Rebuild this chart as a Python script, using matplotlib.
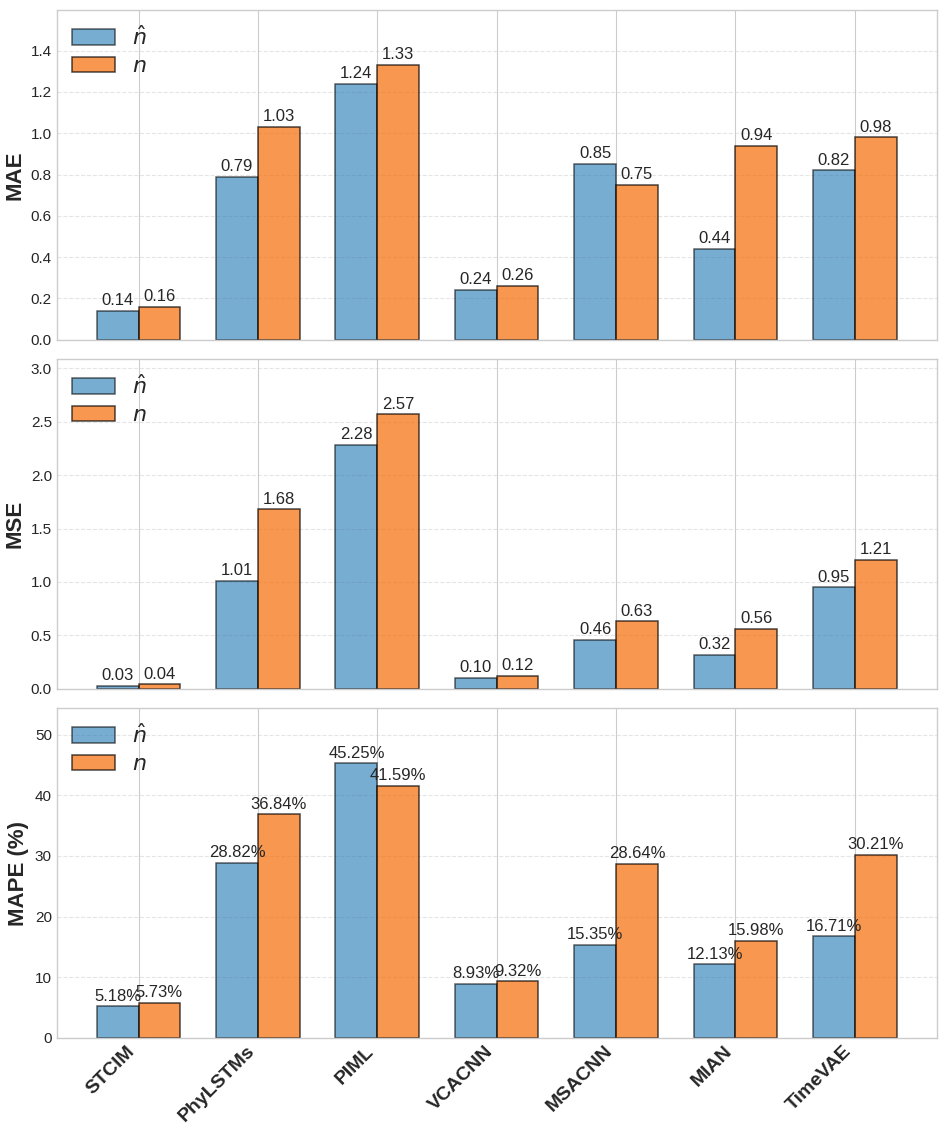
import numpy as np
import matplotlib
matplotlib.use('Agg')
import matplotlib.pyplot as plt

plt.style.use('seaborn-v0_8-whitegrid')
plt.rcParams['font.family'] = ['Liberation Sans', 'DejaVu Sans']
plt.rcParams['mathtext.fontset'] = 'dejavusans'

models = ['STCIM', 'PhyLSTMs', 'PIML', 'VCACNN', 'MSACNN', 'MIAN', 'TimeVAE']

mae_hat = [0.14, 0.79, 1.24, 0.24, 0.85, 0.44, 0.82]
mae_n = [0.16, 1.03, 1.33, 0.26, 0.75, 0.94, 0.98]

mse_hat = [0.03, 1.01, 2.28, 0.10, 0.46, 0.32, 0.95]
mse_n = [0.04, 1.68, 2.57, 0.12, 0.63, 0.56, 1.21]

mape_hat = [5.18, 28.82, 45.25, 8.93, 15.35, 12.13, 16.71]
mape_n = [5.73, 36.84, 41.59, 9.32, 28.64, 15.98, 30.21]

panels = [('MAE', mae_hat, mae_n, ''),
          ('MSE', mse_hat, mse_n, ''),
          ('MAPE (%)', mape_hat, mape_n, '%')]

x = np.arange(len(models))
w = 0.35

fig, axes = plt.subplots(3, 1, figsize=(9.46, 11.38), dpi=100, sharex=True)
fig.subplots_adjust(left=0.06, right=0.99, top=0.991, bottom=0.088, hspace=0.06)

for ax, (name, a, b, suf) in zip(axes, panels):
    b1 = ax.bar(x - w/2, a, w, color='#1f77b4', alpha=0.6, edgecolor='black',
                linewidth=1.1, label=r'$\hat{n}$')
    b2 = ax.bar(x + w/2, b, w, color='#f66b06', alpha=0.7, edgecolor='black',
                linewidth=1.1, label=r'$n$')
    top = max(max(a), max(b))
    ax.set_ylim(0, top * 1.2)
    off = top * 0.01
    for bars in (b1, b2):
        for r in bars:
            h = r.get_height()
            ax.text(r.get_x() + r.get_width()/2, h + off, f'{h:.2f}{suf}',
                    ha='center', va='bottom', fontsize=12)
    ax.set_ylabel(name, fontsize=16, fontweight='bold')
    ax.grid(axis='y', linestyle='--', alpha=0.5)
    ax.tick_params(axis='y', labelsize=11)
    ax.legend(loc='upper left', fontsize=16, frameon=False, labelspacing=0.3,
              borderaxespad=0.3, handlelength=1.9)
    for s in ax.spines.values():
        s.set_visible(True)
        s.set_color('#cccccc')

axes[-1].set_xticks(x)
axes[-1].set_xticklabels(models, rotation=45, ha='right', fontsize=14, fontweight='bold')

fig.savefig('out.png')
